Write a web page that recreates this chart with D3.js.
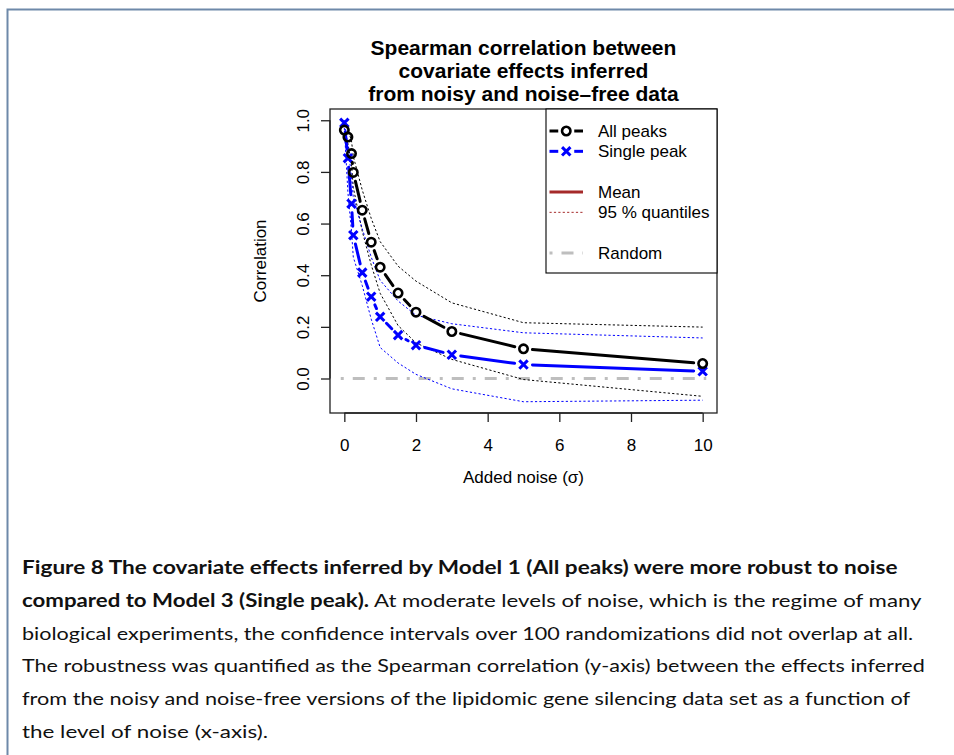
<!DOCTYPE html>
<html>
<head>
<meta charset="utf-8">
<script src="https://cdn.jsdelivr.net/npm/d3@7/dist/d3.min.js"></script>
<style>
  body { margin: 0; background: #fff; }
  svg { display: block; }
</style>
</head>
<body>
<div id="chart"></div>
<script>
// noise levels (sigma) and the correlations
var noise = [0, 0.1, 0.2, 0.25, 0.5, 0.75, 1, 1.5, 2, 3, 5, 10];
var allMean = [0.962, 0.935, 0.871, 0.798, 0.652, 0.528, 0.431, 0.331, 0.257, 0.182, 0.115, 0.058];
var allHigh = [0.985, 0.965, 0.92, 0.86, 0.73, 0.62, 0.53, 0.435, 0.377, 0.293, 0.216, 0.199];
var allLow = [0.945, 0.91, 0.83, 0.74, 0.57, 0.44, 0.33, 0.205, 0.138, 0.074, -0.004, -0.069];
var singleMean = [0.99, 0.853, 0.677, 0.555, 0.41, 0.317, 0.239, 0.168, 0.129, 0.092, 0.054, 0.028];
var singleHigh = [1.0, 0.9, 0.78, 0.70, 0.58, 0.47, 0.38, 0.30, 0.245, 0.212, 0.177, 0.157];
var singleLow = [0.97, 0.72, 0.57, 0.47, 0.36, 0.23, 0.12, 0.06, 0.016, -0.04, -0.09, -0.084];
var randomX = [-0.1, 10.1];
var randomY = [0, 0];

var xTicks = [0, 2, 4, 6, 8, 10];
var yTicks = [0, 0.2, 0.4, 0.6, 0.8, 1.0];

var titleLines = ["Spearman correlation between", "covariate effects inferred", "from noisy and noise\u2013free data"];
var xLabel = "Added noise (\u03c3)";
var yLabel = "Correlation";
var legendLabels = ["All peaks", "Single peak", "", "Mean", "95 % quantiles", "", "Random"];

var captionLines = [
  [["Figure 8  The covariate effects inferred by Model 1 (All peaks) were more robust to noise", true]],
  [["compared to Model 3 (Single peak).", true], [" At moderate levels of noise, which is the regime of many", false]],
  [["biological experiments, the confidence intervals over 100 randomizations did not overlap at all.", false]],
  [["The robustness was quantified as the Spearman correlation (y-axis) between the effects inferred", false]],
  [["from the noisy and noise-free versions of the lipidomic gene silencing data set as a function of", false]],
  [["the level of noise (x-axis).", false]]
];
var captionWidths = [876, 900, 892, 903, 889, 246];

var W = 954, H = 755;
var svg = d3.select("#chart").append("svg")
  .attr("width", W)
  .attr("height", H);

// page frame
svg.append("path")
  .attr("d", "M7.5,755 V9.5 H954")
  .attr("fill", "none")
  .attr("stroke", "#6e89a9")
  .attr("stroke-width", 2);

var plot = {left: 330, right: 717, top: 109, bottom: 413};

// R style 4% padding around the data range
function pad(ext) {
  var d = (ext[1] - ext[0]) * 0.04;
  return [ext[0] - d, ext[1] + d];
}
var allY = allMean.concat(allHigh, allLow, singleMean, singleHigh, singleLow);
var x = d3.scaleLinear().domain(pad(d3.extent(noise))).range([plot.left, plot.right]);
var y = d3.scaleLinear().domain(pad(d3.extent(allY))).range([plot.bottom, plot.top]);

var font = "'Liberation Sans', Arial, Helvetica, sans-serif";
var fs = 17;

// title
svg.append("g").selectAll("text")
  .data(titleLines)
  .enter().append("text")
  .attr("x", (plot.left + plot.right) / 2)
  .attr("y", function(d, i) { return 55 + i * 23.2; })
  .attr("text-anchor", "middle")
  .attr("font-family", font)
  .attr("font-weight", "bold")
  .attr("font-size", 21)
  .text(function(d) { return d; });

// axes
var xAxis = svg.append("g")
  .attr("transform", "translate(0," + plot.bottom + ")")
  .call(d3.axisBottom(x).tickValues(xTicks).tickSize(9).tickPadding(17).tickFormat(d3.format("d")));
var yAxis = svg.append("g")
  .attr("transform", "translate(" + plot.left + ",0)")
  .call(d3.axisLeft(y).tickValues(yTicks).tickSize(9).tickFormat(d3.format(".1f")));

[xAxis, yAxis].forEach(function(a) {
  a.select(".domain").remove();
  a.selectAll("line").attr("stroke", "#222").attr("stroke-width", 1.3);
  a.selectAll("text").attr("font-family", font).attr("font-size", fs).attr("fill", "#000");
});
yAxis.selectAll(".tick text")
  .attr("text-anchor", "middle")
  .attr("x", 0).attr("y", 0).attr("dy", 0)
  .attr("transform", "translate(-21,0) rotate(-90)");

// axis lines spanning first to last tick
xAxis.append("line")
  .attr("x1", x(xTicks[0])).attr("x2", x(xTicks[xTicks.length - 1]))
  .attr("stroke", "#222").attr("stroke-width", 1.3);
yAxis.append("line")
  .attr("y1", y(yTicks[0])).attr("y2", y(yTicks[yTicks.length - 1]))
  .attr("stroke", "#222").attr("stroke-width", 1.3);

svg.append("text")
  .attr("x", (plot.left + plot.right) / 2)
  .attr("y", 483)
  .attr("text-anchor", "middle")
  .attr("font-family", font)
  .attr("font-size", fs)
  .text(xLabel);

svg.append("text")
  .attr("transform", "translate(266," + ((plot.top + plot.bottom) / 2) + ") rotate(-90)")
  .attr("text-anchor", "middle")
  .attr("font-family", font)
  .attr("font-size", fs)
  .text(yLabel);

// clip to the plot region
svg.append("clipPath").attr("id", "clip")
  .append("rect")
  .attr("x", plot.left).attr("y", plot.top)
  .attr("width", plot.right - plot.left).attr("height", plot.bottom - plot.top);

var g = svg.append("g").attr("clip-path", "url(#clip)");

var line = d3.line()
  .x(function(d) { return x(d[0]); })
  .y(function(d) { return y(d[1]); });

function zip(xs, ys) {
  return xs.map(function(v, i) { return [v, ys[i]]; });
}

// random baseline
g.append("path")
  .attr("d", line(zip(randomX, randomY)))
  .attr("fill", "none")
  .attr("stroke", "#bebebe")
  .attr("stroke-width", 3)
  .attr("stroke-dasharray", "3,9,12,9");

// quantile bands
[[allHigh, "#000"], [allLow, "#000"], [singleHigh, "#0000ff"], [singleLow, "#0000ff"]].forEach(function(q) {
  g.append("path")
    .attr("d", line(zip(noise, q[0])))
    .attr("fill", "none")
    .attr("stroke", q[1])
    .attr("stroke-width", 1)
    .attr("stroke-dasharray", "2.2,2.2");
});

// type = "b" lines: segments with gaps around points
function gappedSegments(xs, ys, gap) {
  var segs = [];
  for (var i = 0; i < xs.length - 1; i++) {
    var x0 = x(xs[i]), y0 = y(ys[i]), x1 = x(xs[i + 1]), y1 = y(ys[i + 1]);
    var dx = x1 - x0, dy = y1 - y0, len = Math.sqrt(dx * dx + dy * dy);
    if (len <= 2 * gap) continue;
    var ux = dx / len, uy = dy / len;
    segs.push([x0 + ux * gap, y0 + uy * gap, x1 - ux * gap, y1 - uy * gap]);
  }
  return segs;
}

function drawSeries(ys, color, shape) {
  var sg = g.append("g");
  sg.selectAll("line")
    .data(gappedSegments(noise, ys, 9))
    .enter().append("line")
    .attr("x1", function(d) { return d[0]; })
    .attr("y1", function(d) { return d[1]; })
    .attr("x2", function(d) { return d[2]; })
    .attr("y2", function(d) { return d[3]; })
    .attr("stroke", color)
    .attr("stroke-width", 3)
    .attr("stroke-linecap", "round");
  var pts = sg.selectAll("g.pt")
    .data(zip(noise, ys))
    .enter().append("g")
    .attr("class", "pt")
    .attr("transform", function(d) { return "translate(" + x(d[0]) + "," + y(d[1]) + ")"; });
  drawMarker(pts, color, shape);
}

function drawMarker(sel, color, shape) {
  if (shape === "circle") {
    sel.append("circle").attr("r", 4.2)
      .attr("fill", "none").attr("stroke", color).attr("stroke-width", 2.6);
  } else {
    var s = 4.2;
    sel.append("path")
      .attr("d", "M" + (-s) + "," + (-s) + "L" + s + "," + s + "M" + (-s) + "," + s + "L" + s + "," + (-s))
      .attr("stroke", color).attr("stroke-width", 3).attr("fill", "none");
  }
}

drawSeries(singleMean, "#0000ff", "cross");
drawSeries(allMean, "#000", "circle");

// plot box
svg.append("rect")
  .attr("x", plot.left).attr("y", plot.top)
  .attr("width", plot.right - plot.left).attr("height", plot.bottom - plot.top)
  .attr("fill", "none").attr("stroke", "#222").attr("stroke-width", 1.3);

// legend
var leg = svg.append("g");
var legBox = {left: 546, top: 109, right: 717, bottom: 273};
leg.append("rect")
  .attr("x", legBox.left).attr("y", legBox.top)
  .attr("width", legBox.right - legBox.left).attr("height", legBox.bottom - legBox.top)
  .attr("fill", "#fff").attr("stroke", "#000").attr("stroke-width", 1.1);

var rowY = d3.scaleLinear().domain([0, 6]).range([131, 253]);
var sx0 = 549.5, sx1 = 583, sxm = (sx0 + sx1) / 2;

leg.selectAll("text")
  .data(legendLabels)
  .enter().append("text")
  .attr("x", 598)
  .attr("y", function(d, i) { return rowY(i) + 6; })
  .attr("font-family", font)
  .attr("font-size", fs)
  .text(function(d) { return d; });

[[0, "#000", "circle"], [1, "#0000ff", "cross"]].forEach(function(r) {
  var yy = rowY(r[0]);
  leg.append("line").attr("x1", sx0).attr("x2", sxm - 8).attr("y1", yy).attr("y2", yy)
    .attr("stroke", r[1]).attr("stroke-width", 3);
  leg.append("line").attr("x1", sxm + 8).attr("x2", sx1).attr("y1", yy).attr("y2", yy)
    .attr("stroke", r[1]).attr("stroke-width", 3);
  drawMarker(leg.append("g").attr("transform", "translate(" + sxm + "," + yy + ")"), r[1], r[2]);
});
leg.append("line").attr("x1", sx0).attr("x2", sx1).attr("y1", rowY(3)).attr("y2", rowY(3))
  .attr("stroke", "#a52a2a").attr("stroke-width", 3);
leg.append("line").attr("x1", sx0).attr("x2", sx1).attr("y1", rowY(4)).attr("y2", rowY(4))
  .attr("stroke", "#a52a2a").attr("stroke-width", 1).attr("stroke-dasharray", "2.2,2.2");
leg.append("line").attr("x1", sx0).attr("x2", sx1).attr("y1", rowY(6)).attr("y2", rowY(6))
  .attr("stroke", "#bebebe").attr("stroke-width", 3).attr("stroke-dasharray", "3,9,12,9");

// caption
var capFont = "Lato, 'Open Sans', sans-serif";
var cap = svg.append("g");
captionLines.forEach(function(parts, i) {
  var t = cap.append("text")
    .attr("x", 0).attr("y", 0)
    .attr("font-family", capFont)
    .attr("font-size", 18)
    .attr("fill", "#111");
  parts.forEach(function(p) {
    t.append("tspan").attr("font-weight", p[1] ? "bold" : "normal").text(p[0]);
  });
  var w = t.node().getComputedTextLength();
  var k = captionWidths[i] / w;
  t.attr("transform", "translate(22," + (574 + i * 32.8) + ") scale(" + k + ",1)");
});
</script>
</body>
</html>
